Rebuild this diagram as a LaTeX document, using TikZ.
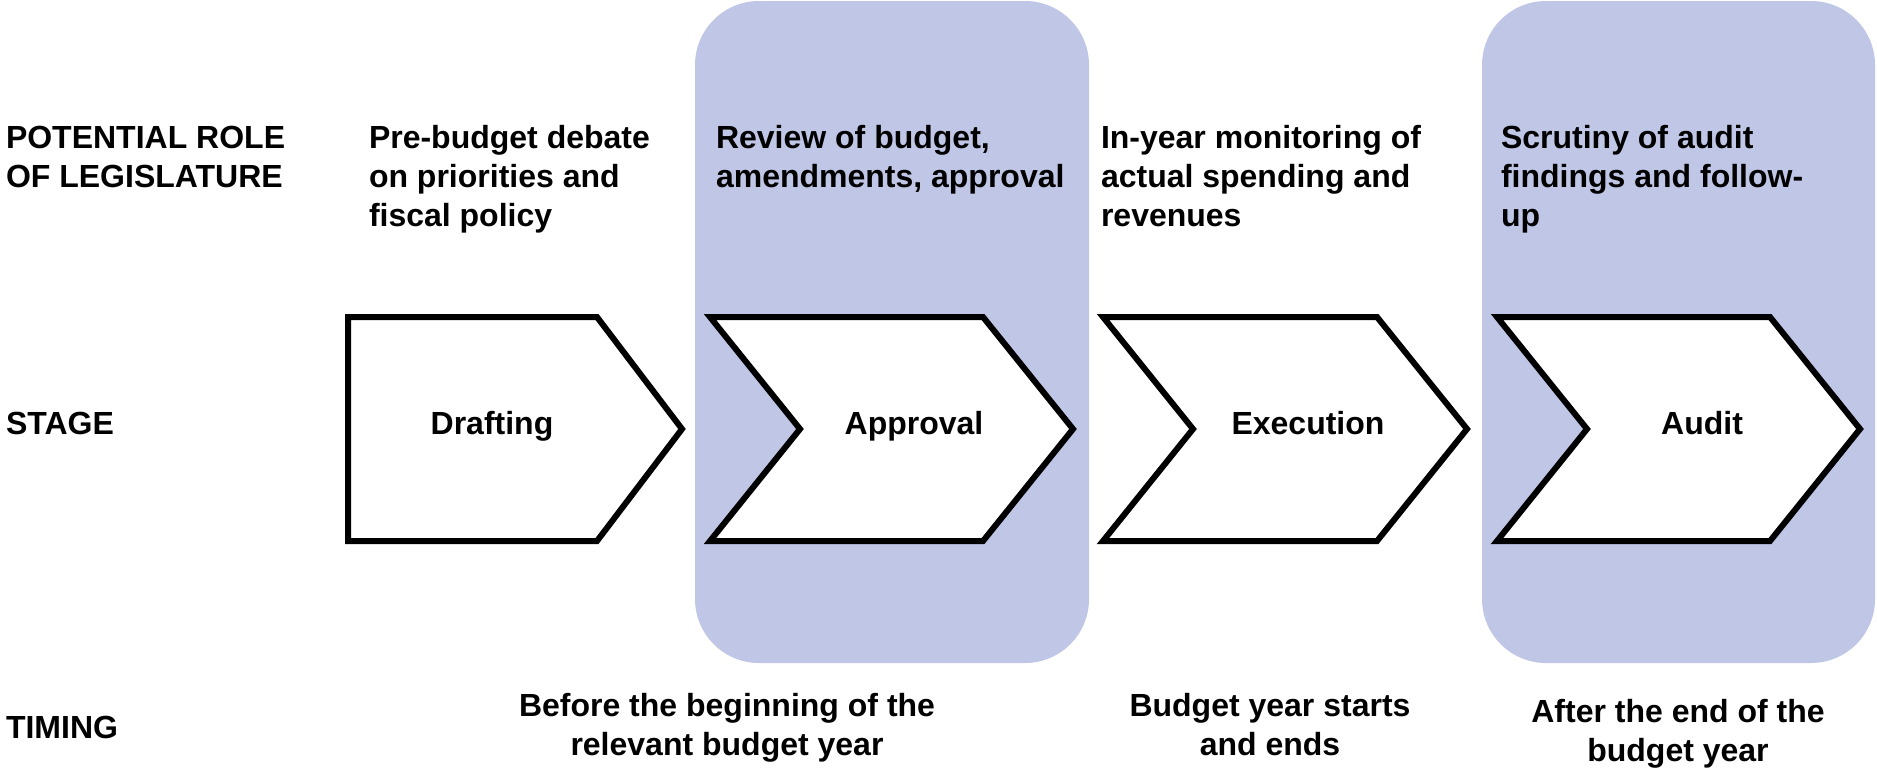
\documentclass[tikz,border=0pt]{standalone}
\usepackage{fontspec}
\setmainfont{Liberation Sans}
\definecolor{bandblue}{RGB}{192,198,230}
\begin{document}
\begin{tikzpicture}[x=0.5pt,y=-0.5pt,
  txt/.style={font=\bfseries\fontsize{16}{19.5}\selectfont, inner sep=0pt, outer sep=0pt},
  lefttxt/.style={txt, align=left, anchor=base west},
  centtxt/.style={txt, align=center, anchor=base},
  stagebox/.style={draw=black, line width=3pt, fill=white, line join=miter},
  band/.style={fill=bandblue, rounded corners=32pt}]
\useasboundingbox (0,0) rectangle (1877,768);
% highlighted columns
\fill[band] (695,1) rectangle (1089,663);
\fill[band] (1482,1) rectangle (1875,663);
% row headings (base anchor = baseline of last line)
\node[lefttxt] (roleH) at (6,187) {POTENTIAL ROLE\\OF LEGISLATURE};
\node[lefttxt] (stageH) at (6,434) {STAGE};
\node[lefttxt] (timingH) at (6,738) {TIMING};
% roles
\node[lefttxt] (r1) at (369,226) {Pre-budget debate\\on priorities and\\fiscal policy};
\node[lefttxt] (r2) at (716,187) {Review of budget,\\amendments, approval};
\node[lefttxt] (r3) at (1101,226) {In-year monitoring of\\actual spending and\\revenues};
\node[lefttxt] (r4) at (1501,226) {Scrutiny of audit\\findings and follow-\\up};
% stages
\draw[stagebox] (348,317) -- (597,317) -- (682,429) -- (597,541) -- (348,541) -- cycle;
\draw[stagebox] (710,317) -- (983,317) -- (1073,429) -- (983,541) -- (710,541) -- (800,429) -- cycle;
\draw[stagebox] (1103,317) -- (1377,317) -- (1467,429) -- (1377,541) -- (1103,541) -- (1193,429) -- cycle;
\draw[stagebox] (1497,317) -- (1770,317) -- (1860,429) -- (1770,541) -- (1497,541) -- (1587,429) -- cycle;
\node[centtxt] (s1) at (492,434) {Drafting};
\node[centtxt] (s2) at (914,434) {Approval};
\node[centtxt] (s3) at (1308,434) {Execution};
\node[centtxt] (s4) at (1702,434) {Audit};
% timing
\node[centtxt] (t1) at (727,755) {Before the beginning of the\\relevant budget year};
\node[centtxt] (t2) at (1270,755) {Budget year starts\\and ends};
\node[centtxt] (t3) at (1678,761) {After the end of the\\budget year};
\end{tikzpicture}
\end{document}
